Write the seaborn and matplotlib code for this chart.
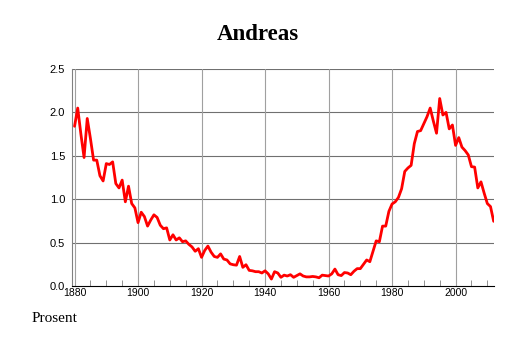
import matplotlib
matplotlib.use("Agg")
import matplotlib.pyplot as plt
from matplotlib.ticker import MultipleLocator
import seaborn as sns
import pandas as pd

years = list(range(1880, 2013))
values = [
    # 1880-1889
    1.84, 2.05, 1.75, 1.48, 1.93, 1.70, 1.45, 1.45, 1.27, 1.21,
    # 1890-1899
    1.41, 1.40, 1.43, 1.18, 1.13, 1.22, 0.97, 1.15, 0.95, 0.90,
    # 1900-1909
    0.73, 0.85, 0.80, 0.69, 0.76, 0.82, 0.79, 0.70, 0.66, 0.67,
    # 1910-1919
    0.53, 0.59, 0.53, 0.555, 0.51, 0.52, 0.48, 0.45, 0.40, 0.43,
    # 1920-1929
    0.33, 0.41, 0.46, 0.39, 0.34, 0.33, 0.37, 0.31, 0.30, 0.255,
    # 1930-1939
    0.245, 0.24, 0.34, 0.215, 0.245, 0.18, 0.175, 0.165, 0.165, 0.15,
    # 1940-1949
    0.175, 0.14, 0.08, 0.165, 0.15, 0.10, 0.125, 0.115, 0.13, 0.10,
    # 1950-1959
    0.12, 0.14, 0.115, 0.105, 0.105, 0.11, 0.105, 0.095, 0.125, 0.12,
    # 1960-1969
    0.115, 0.14, 0.195, 0.13, 0.12, 0.155, 0.15, 0.13, 0.17, 0.20,
    # 1970-1979
    0.20, 0.25, 0.30, 0.28, 0.40, 0.52, 0.51, 0.69, 0.69, 0.86,
    # 1980-1989
    0.945, 0.97, 1.02, 1.12, 1.32, 1.36, 1.39, 1.64, 1.78, 1.79,
    # 1990-1999
    1.87, 1.95, 2.05, 1.90, 1.76, 2.16, 1.97, 2.00, 1.81, 1.855,
    # 2000-2009
    1.62, 1.71, 1.60, 1.56, 1.51, 1.375, 1.37, 1.13, 1.20, 1.07,
    # 2010-2012
    0.95, 0.915, 0.745,
]
x_ticks = [1880, 1900, 1920, 1940, 1960, 1980, 2000]
y_ticks = [0.0, 0.5, 1.0, 1.5, 2.0, 2.5]
title = "Andreas"
ylabel = "Prosent"

df = pd.DataFrame({"year": years, "value": values})

sns.set_style("white")
plt.rcParams["font.family"] = ["Liberation Sans", "DejaVu Sans"]
plt.rcParams["text.color"] = "black"
plt.rcParams["xtick.color"] = "black"
plt.rcParams["ytick.color"] = "black"

fig = plt.figure(figsize=(5.14, 3.43), dpi=100)
ax = fig.add_axes([72 / 514, 1 - 286 / 343, (494 - 72) / 514, (286 - 69) / 343])

# grid
for yv in y_ticks[1:]:
    ax.axhline(yv, color="#707070", lw=0.8, zorder=1)
for xv in x_ticks:
    ax.axvline(xv, color="#a0a0a0", lw=0.8, zorder=1)

sns.lineplot(data=df, x="year", y="value", color="#ff0000", lw=2.0, ax=ax, zorder=3)

ax.set_xlim(1879.2, 2012.1)
ax.set_ylim(0, 2.5)
ax.set_xticks(x_ticks)
ax.set_yticks(y_ticks)
ax.set_yticklabels([f"{v:.1f}" for v in y_ticks])
ax.xaxis.set_minor_locator(MultipleLocator(5))
ax.tick_params(axis="x", which="major", direction="in", length=4, width=0.8, pad=1.5,
               labelsize=7.5, labelcolor="black", color="#808080")
ax.tick_params(axis="x", which="minor", direction="in", length=4, width=0.6, color="#808080",
               bottom=True)
ax.tick_params(axis="y", which="major", direction="in", length=0, pad=5, labelsize=8,
               labelcolor="black")
ax.set_xlabel("")
ax.set_ylabel("")

for s in ["top", "right"]:
    ax.spines[s].set_visible(False)
ax.spines["left"].set_color("#808080")
ax.spines["left"].set_linewidth(0.8)
ax.spines["bottom"].set_color("black")
ax.spines["bottom"].set_linewidth(0.8)

fig.text(258 / 514, 1 - 35 / 343, title, ha="center", va="center", color="black",
         fontsize=16.5, fontweight="bold", family=["Liberation Serif", "DejaVu Serif"])
fig.text(32 / 514, 1 - 318 / 343, ylabel, ha="left", va="center", color="black",
         fontsize=11, family=["Liberation Serif", "DejaVu Serif"])

fig.savefig("out.png", dpi=100)
